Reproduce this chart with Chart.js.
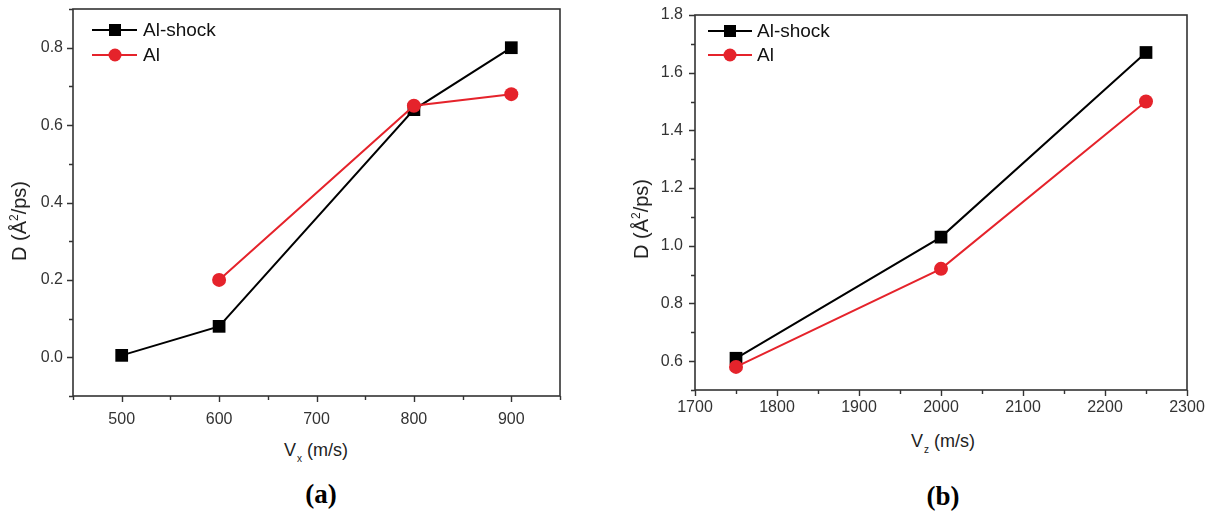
<!DOCTYPE html>
<html><head><meta charset="utf-8">
<script src="https://cdn.jsdelivr.net/npm/chart.js@4.4.1/dist/chart.umd.min.js"></script>
<style>
body{margin:0;background:#fff;width:1226px;height:515px;position:relative;overflow:hidden;font-family:"Liberation Sans",Arial,sans-serif;}
.cv{position:absolute;top:0;}
.t{position:absolute;color:#222;font-size:18px;white-space:nowrap;line-height:1;}
.ytitle{transform:translate(-50%,-50%) rotate(-90deg);font-size:20px;}
.xtitle{transform:translate(-50%,-50%);}
.sub{font-size:10px;position:relative;top:6px;margin-left:1px;}
.sup{font-size:12px;position:relative;top:-8px;}
.lab{position:absolute;font-family:"Liberation Serif","Times New Roman",serif;font-weight:bold;font-size:27px;transform:translate(-50%,-50%);color:#000;line-height:1;}
</style></head>
<body>
<div class="cv" style="left:0;width:600px;height:430px"><canvas id="ca" width="600" height="430"></canvas></div>
<div class="cv" style="left:600px;width:626px;height:430px"><canvas id="cb" width="626" height="430"></canvas></div>
<div class="t ytitle" style="left:19px;top:221px">D (Å<span class="sup">2</span>/ps)</div>
<div class="t ytitle" style="left:641px;top:219px">D (Å<span class="sup">2</span>/ps)</div>
<div class="t xtitle" style="left:316px;top:450px">V<span class="sub">x</span> (m/s)</div>
<div class="t xtitle" style="left:943px;top:441px">V<span class="sub">z</span> (m/s)</div>
<div class="lab" style="left:321px;top:494px">(a)</div>
<div class="lab" style="left:943px;top:496px">(b)</div>
<script>
// ---- data (a) ----
const shockXA = [500, 600, 800, 900];
const shockYA = [0.005, 0.08, 0.64, 0.80];
const alXA = [600, 800, 900];
const alYA = [0.20, 0.65, 0.68];
const xTicksA = [500, 600, 700, 800, 900];
const yTicksA = [0.0, 0.2, 0.4, 0.6, 0.8];
// ---- data (b) ----
const shockXB = [1750, 2000, 2250];
const shockYB = [0.61, 1.03, 1.67];
const alXB = [1750, 2000, 2250];
const alYB = [0.58, 0.92, 1.50];
const xTicksB = [1700, 1800, 1900, 2000, 2100, 2200, 2300];
const yTicksB = [0.6, 0.8, 1.0, 1.2, 1.4, 1.6, 1.8];
const seriesNames = ['Al-shock', 'Al'];

const RED = '#e5232b';
const BLACK = '#000000';
const AXIS = '#333333';

function pts(xs, ys){ return xs.map((x,i)=>({x:x, y:ys[i]})); }

const framePlugin = {
  id:'frame',
  beforeDatasetsDraw(chart, args, o){
    const ctx = chart.ctx, a = chart.chartArea, x = chart.scales.x, y = chart.scales.y;
    ctx.save();
    ctx.strokeStyle = AXIS; ctx.lineWidth = 1.6;
    ctx.strokeRect(a.left, a.top, a.right - a.left, a.bottom - a.top);
    ctx.lineWidth = 1.4;
    ctx.beginPath();
    const nx = Math.round((x.max - x.min) / o.xMinor);
    for (let i = 0; i <= nx; i++){
      const v = x.min + i * o.xMinor;
      const major = o.xTicks.some(t => Math.abs(t - v) < 1e-6);
      const px = Math.round(x.getPixelForValue(v)) + 0.5;
      ctx.moveTo(px, a.bottom); ctx.lineTo(px, a.bottom + (major ? 6 : 4));
    }
    const ny = Math.round((y.max - y.min) / o.yMinor);
    for (let i = 0; i <= ny; i++){
      const v = y.min + i * o.yMinor;
      const major = o.yTicks.some(t => Math.abs(t - v) < 1e-6);
      const py = Math.round(y.getPixelForValue(v)) + 0.5;
      ctx.moveTo(a.left, py); ctx.lineTo(a.left - (major ? 6 : 4), py);
    }
    ctx.stroke();
    ctx.restore();
  },
  afterDraw(chart, args, o){
    const ctx = chart.ctx, a = chart.chartArea;
    const L = o.legend;
    ctx.save();
    const items = [
      {name: seriesNames[0], color: BLACK, style: 'rect'},
      {name: seriesNames[1], color: RED, style: 'circle'}
    ];
    items.forEach((it, i) => {
      const yy = a.top + L.y0 + i * L.dy;
      ctx.strokeStyle = it.color; ctx.lineWidth = 2;
      ctx.beginPath(); ctx.moveTo(a.left + L.x0, yy); ctx.lineTo(a.left + L.x1, yy); ctx.stroke();
      ctx.fillStyle = it.color;
      const cx = a.left + L.xm;
      if (it.style === 'rect'){ ctx.fillRect(cx - 6, yy - 6, 12, 12); }
      else { ctx.beginPath(); ctx.arc(cx, yy, 6.5, 0, Math.PI * 2); ctx.fill(); }
      ctx.fillStyle = '#111';
      ctx.font = '19px "Liberation Sans", Arial, sans-serif';
      ctx.textBaseline = 'middle';
      ctx.fillText(it.name, a.left + L.xt, yy + 1);
    });
    ctx.restore();
  }
};

function makeChart(id, cfg){
  const datasets = [
    {label: seriesNames[1], data: pts(cfg.alX, cfg.alY), borderColor: RED, backgroundColor: RED,
     pointBorderColor: RED, pointBackgroundColor: RED, pointStyle: 'circle', pointRadius: 7,
     pointBorderWidth: 0, borderWidth: 2, order: 0},
    {label: seriesNames[0], data: pts(cfg.shockX, cfg.shockY), borderColor: BLACK, backgroundColor: BLACK,
     pointBorderColor: BLACK, pointBackgroundColor: BLACK, pointStyle: 'rect', pointRadius: 9,
     pointBorderWidth: 0, borderWidth: 2, order: 1}
  ];
  return new Chart(document.getElementById(id), {
    type: 'line',
    data: {datasets: datasets},
    options: {
      responsive: false, animation: false, devicePixelRatio: 1,
      layout: {padding: {top: cfg.padTop, right: cfg.padRight, left: 0, bottom: 0}},
      plugins: {legend: {display: false}, tooltip: {enabled: false},
        frame: {xMinor: cfg.xMinor, yMinor: cfg.yMinor, xTicks: cfg.xTicks, yTicks: cfg.yTicks, legend: cfg.legend}},
      scales: {
        x: {type: 'linear', min: cfg.xMin, max: cfg.xMax,
          grid: {display: false, drawTicks: false}, border: {display: false},
          afterBuildTicks: s => { s.ticks = cfg.xTicks.map(v => ({value: v})); },
          afterFit: s => { s.height = cfg.xH; s.paddingLeft = 0; s.paddingRight = 0; },
          ticks: {padding: cfg.xPad, color: AXIS, maxRotation: 0, font: {family: '"Liberation Sans", Arial, sans-serif', size: 16},
            callback: v => String(v)}},
        y: {type: 'linear', min: cfg.yMin, max: cfg.yMax,
          grid: {display: false, drawTicks: false}, border: {display: false},
          afterBuildTicks: s => { s.ticks = cfg.yTicks.map(v => ({value: v})); },
          afterFit: s => { s.width = cfg.yW; s.paddingTop = 0; s.paddingBottom = 0; },
          ticks: {padding: cfg.yPad, color: AXIS, font: {family: '"Liberation Sans", Arial, sans-serif', size: 16},
            callback: v => Number(v).toFixed(1)}}
      }
    },
    plugins: [framePlugin]
  });
}

makeChart('ca', {
  shockX: shockXA, shockY: shockYA, alX: alXA, alY: alYA,
  xTicks: xTicksA, yTicks: yTicksA, xMin: 450, xMax: 950, yMin: -0.1, yMax: 0.9,
  xMinor: 50, yMinor: 0.1, padTop: 9, padRight: 40, xH: 34, yW: 73, xPad: 14, yPad: 10,
  legend: {x0: 19, x1: 64, xm: 42, xt: 70, y0: 21, dy: 25}
});
makeChart('cb', {
  shockX: shockXB, shockY: shockYB, alX: alXB, alY: alYB,
  xTicks: xTicksB, yTicks: yTicksB, xMin: 1700, xMax: 2300, yMin: 0.5, yMax: 1.8,
  xMinor: 50, yMinor: 0.1, padTop: 15, padRight: 39, xH: 40, yW: 95, xPad: 8, yPad: 12,
  legend: {x0: 13, x1: 57, xm: 35, xt: 62, y0: 16, dy: 24}
});
</script>
</body></html>
